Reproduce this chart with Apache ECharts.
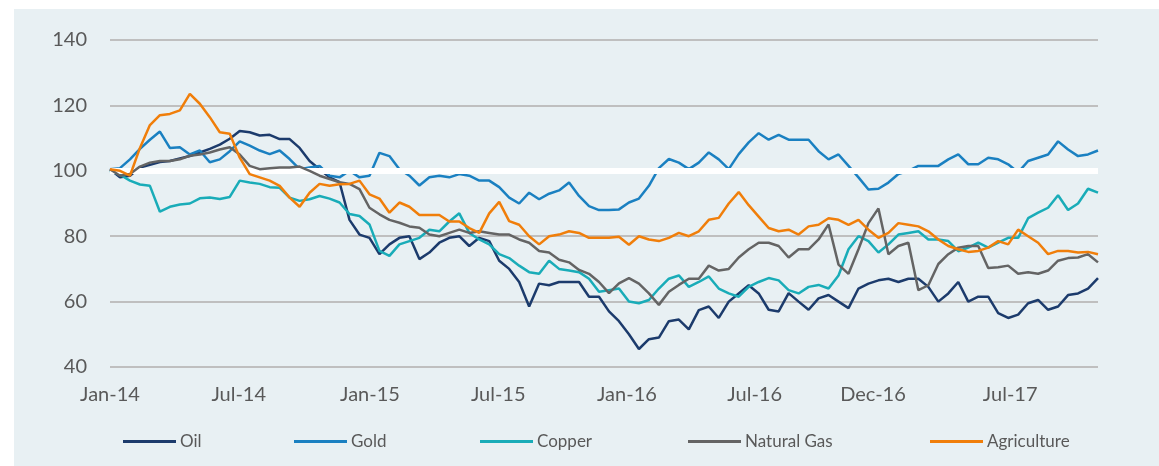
<!DOCTYPE html>
<html><head><meta charset="utf-8">
<script src="https://cdn.jsdelivr.net/npm/echarts@6/dist/echarts.min.js"></script>
<style>html,body{margin:0;padding:0;background:#fff;}#c{width:1159px;height:466px;}</style>
</head><body><div id="c"></div>
<script>
const tickLabels = ['Jan-14','Jul-14','Jan-15','Jul-15','Jan-16','Jul-16','Dec-16','Jul-17'];
const tickIndex = [0, 12.9, 26.05, 38.9, 51.8, 64.6, 76.45, 90.2];
const yTicks = [40, 60, 80, 100, 120, 140];

const oil = [100.5,98,98.5,101,101.8,102.7,103,103.8,104.5,105.6,106.7,108,109.8,112.2,111.8,110.8,111,109.7,109.7,107,
103,100.5,98,96.5,85,80.5,79.5,74.5,77.5,79.5,80,73,75,78,79.5,80,77,79.5,78.5,72.5,
70,66,58.5,65.5,65,66,66,66,61.5,61.5,57,54,50,45.5,48.5,49,54,54.5,51.5,
57.4,58.5,55,60,62.5,65,62.5,57.5,57,62.6,60,57.5,61,62,60,58,64,65.5,66.5,67,
66,67,67,64.5,60,62.5,66,60,61.5,61.5,56.5,55,56,59.5,60.5,57.5,58.5,62,62.5,64,67.2];

const gold = [100.5,100.8,103.5,106.7,109.5,112,107,107.2,105,106.2,102.6,103.5,106,109,107.7,106.2,105.1,106.2,103.6,100.5,
101,101.5,98.5,98,100,98,98.5,105.5,104.5,100.5,98.5,95.5,98,98.5,98,99,98.5,97,97,95,
91.8,90,93.3,91.3,93,94,96.4,92.3,89.2,88,88,88.2,90.3,91.5,95.4,100.8,103.6,102.5,100.5,
102.5,105.6,103.5,100.5,105.1,108.7,111.5,109.5,111,109.5,109.5,109.5,106,103.5,105,101.5,98,94.3,94.5,96.4,
99,100,101.5,101.5,101.5,103.5,105,102,102,104,103.5,102,99.5,103,104,105,109,106.5,104.5,105,106.2];

const copper = [100,98.8,97,95.8,95.4,87.5,89,89.7,90,91.6,91.8,91.4,92,97,96.4,96,95,94.8,91.8,90.8,
91.3,92.3,91.5,90.3,86.8,86.2,83.6,75.5,74,77.5,78.5,79.5,82,81.5,84.5,87,81,79,77.5,74.5,
73.3,71,69,68.5,72.5,70,69.5,69,67,63,63.5,64,60,59.5,60.5,64,67,68,64.5,
66,67.7,64,62.5,61.5,64.5,66,67.2,66.5,63.5,62.5,64.5,65.1,64,68,76,80,78.5,75,77.5,
80.5,81,81.5,79,79,78.5,75.4,76.5,78,76.5,78,79.5,79.5,85.5,87.2,88.7,92.5,88,90,94.5,93.3];

const naturalGas = [100.5,98.5,99,101.3,102.5,103,103,103.5,104.6,105,105.6,106.5,107.2,105,101.5,100.5,100.8,101,101,101.3,
100,98.5,97.5,96.5,96,94.4,88.7,86.7,85,84.1,83,82.6,80.5,80,81,82,81,81.5,81,80.5,
80.5,79,78,75.5,75,72.8,72,69.7,68.5,66,62.6,65.6,67.2,65.5,62.5,59,63,65.1,67,
67,71,69.5,70,73.5,76,78,78,77,73.5,76,76,79,83.6,71.3,68.5,76,84,88.5,74.5,
77,78,63.5,65,71.5,74.5,76.5,77,77,70.3,70.5,71,68.5,69,68.5,69.5,72.5,73.3,73.5,74.5,72];

const agriculture = [100.5,100,98.5,107,114,117,117.4,118.5,123.5,120.5,116.4,111.8,111.3,104,99,98,97,95.4,91.8,89,
93.3,96,95.4,95.9,96,97,92.8,91.5,87.2,90.3,89,86.5,86.5,86.5,84.5,84.5,82.5,81,87,90.5,
84.6,83.5,80,77.5,80,80.5,81.5,81,79.5,79.5,79.5,79.8,77.4,80,79,78.5,79.5,81,80,
81.5,85,85.6,90,93.5,89.5,86,82.5,81.5,82,80.5,83,83.5,85.5,85,83.5,85,82,79.5,81,
84,83.5,83,81.5,79,77,76,75.2,75.5,76.5,78.5,77.5,82,80,78,74.5,75.5,75.5,75,75.2,74.5];

const seriesNames = ['Oil','Gold','Copper','Natural Gas','Agriculture'];
const seriesData = [oil, gold, copper, naturalGas, agriculture];
const seriesColors = ['#1c3b6c','#1a80c1','#19acb8','#646464','#f07e0a'];
const legendLeft = [123, 294, 480, 688, 930];

const pts = a => a.map((v, i) => [i, v]);
const axisFont = {fontFamily: 'Lato', fontSize: 20, color: '#595959'};

const chart = echarts.init(document.getElementById('c'));
const series = [{
  type: 'line', data: [], z: 1, silent: true,
  markLine: {silent: true, symbol: 'none', label: {show: false}, animation: false,
    lineStyle: {color: '#ffffff', width: 6, type: 'solid'}, data: [{yAxis: 100}]}
}];
seriesNames.forEach((n, k) => series.push({
  name: n, type: 'line', data: pts(seriesData[k]), showSymbol: false, z: 2 + k,
  lineStyle: {color: seriesColors[k], width: 2.5}, itemStyle: {color: seriesColors[k]}
}));

chart.setOption({
  animation: false,
  backgroundColor: '#e8f0f3',
  graphic: [
    {type: 'rect', left: 0, top: 0, shape: {width: 1159, height: 9}, style: {fill: '#fff'}, silent: true},
    {type: 'rect', left: 0, top: 0, shape: {width: 14, height: 466}, style: {fill: '#fff'}, silent: true}
  ],
  grid: {left: 110, right: 61, top: 40, bottom: 99},
  xAxis: {
    type: 'value', min: 0, max: oil.length - 1,
    splitLine: {show: false}, axisLine: {show: false}, axisTick: {show: false},
    axisLabel: Object.assign({
      customValues: tickIndex, margin: 18,
      formatter: v => {
        let best = 0;
        tickIndex.forEach((t, j) => { if (Math.abs(t - v) < Math.abs(tickIndex[best] - v)) best = j; });
        return tickLabels[best];
      }
    }, axisFont)
  },
  yAxis: {
    type: 'value', min: yTicks[0], max: yTicks[yTicks.length - 1], interval: 20,
    axisLine: {show: false}, axisTick: {show: false},
    splitLine: {lineStyle: {color: '#bfbfbf', width: 2}},
    axisLabel: Object.assign({margin: 23}, axisFont)
  },
  legend: seriesNames.map((n, k) => ({
    data: [n], left: legendLeft[k], top: 433, padding: 0, icon: 'rect', itemWidth: 53, itemHeight: 3, itemGap: 5,
    textStyle: {fontFamily: 'Lato', fontSize: 17, color: '#595959', padding: [0, 0, 0, -1]}, selectedMode: false
  })),
  series: series
});
</script></body></html>
